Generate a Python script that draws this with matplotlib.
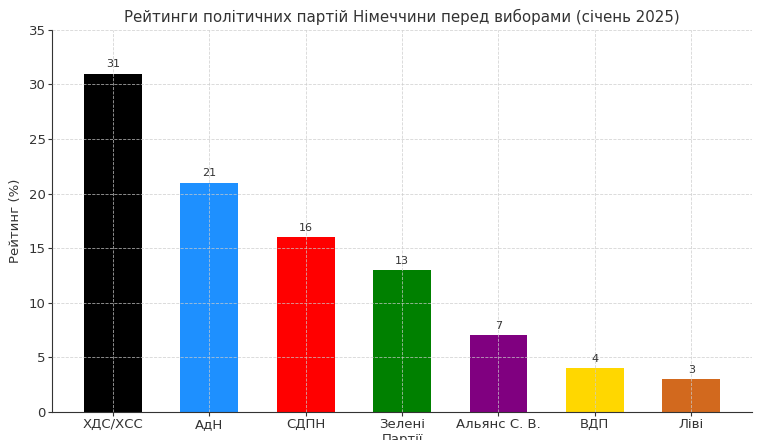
import matplotlib
matplotlib.use("Agg")
import matplotlib.pyplot as plt

# party names and their poll ratings
parties = ["ХДС/ХСС", "АдН", "СДПН", "Зелені\nПартії", "Альянс С. В.", "ВДП", "Ліві"]
ratings = [31, 21, 16, 13, 7, 4, 3]
colors = ["black", "dodgerblue", "red", "green", "purple", "gold", "chocolate"]

fig, ax = plt.subplots(figsize=(7.58, 4.40), dpi=100)
fig.subplots_adjust(left=0.069, right=0.992, top=0.932, bottom=0.064)

bars = ax.bar(parties, ratings, color=colors, width=0.6)
for b, v in zip(bars, ratings):
    ax.text(b.get_x() + b.get_width() / 2, v + 0.4, str(v),
            ha="center", va="bottom", fontsize=8, color="#333333")

ax.set_ylim(0, 35)
ax.set_title("Рейтинги політичних партій Німеччини перед виборами (січень 2025)",
             fontsize=10.8, color="#333333", pad=6)
ax.set_ylabel("Рейтинг (%)", fontsize=9.5, color="#333333", labelpad=5)
ax.tick_params(labelsize=9.5, colors="#333333", length=2.7, pad=2)
ax.grid(True, linestyle="--", linewidth=0.6, color="#cccccc", alpha=0.8)
ax.set_axisbelow(False)
for s in ["top", "right"]:
    ax.spines[s].set_visible(False)
for s in ["left", "bottom"]:
    ax.spines[s].set_color("#333333")

fig.savefig("out.png", dpi=100)
